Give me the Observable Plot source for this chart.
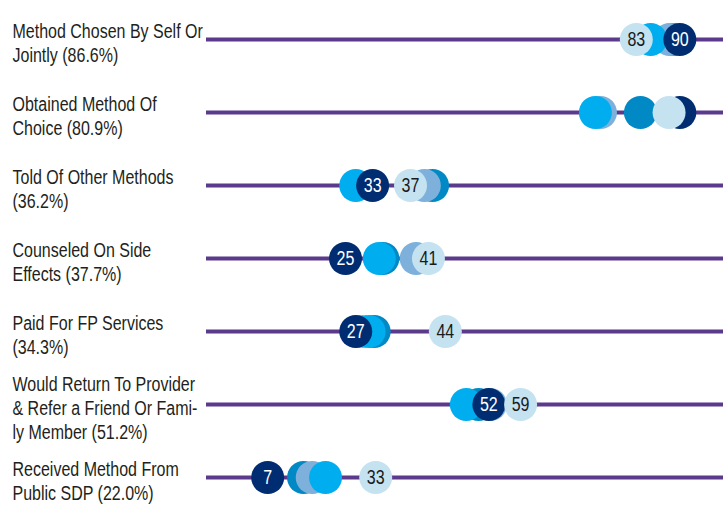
<!DOCTYPE html>
<html>
<head>
<meta charset="utf-8">
<script src="https://cdn.jsdelivr.net/npm/d3@7"></script>
<script src="https://cdn.jsdelivr.net/npm/@observablehq/plot@0.6"></script>
<style>
  html, body { margin: 0; padding: 0; background: #ffffff; }
  #chart { width: 723px; height: 514px; overflow: hidden; }
</style>
</head>
<body>
<div id="chart"></div>
<script>
// Row labels (top to bottom)
const rows = [
  "Method Chosen By Self Or\nJointly (86.6%)",
  "Obtained Method Of\nChoice (80.9%)",
  "Told Of Other Methods\n(36.2%)",
  "Counseled On Side\nEffects (37.7%)",
  "Paid For FP Services\n(34.3%)",
  "Would Return To Provider\n& Refer a Friend Or Fami-\nly Member (51.2%)",
  "Received Method From\nPublic SDP (22.0%)"
];

// Series names, in drawing order (bottom to top)
const seriesNames = ["Group C", "Group D", "Group B", "Group A", "Group E"];

// Dot positions (percent), one per row
const groupC = [88.9, 82.6, 42.0, 32.3, 30.6, 51.0, 16.8];
const groupD = [88.3, 74.8, 40.4, 38.8, 28.3, 53.3, 18.5];
const groupB = [84.6, 73.8, 27.0, 31.6, 29.6, 48.6, 21.1];
const groupA = [90.3, 90.3, 30.3, 25.0, 27.0, 53.0, 9.8];
const groupE = [81.8, 88.2, 37.7, 41.2, 44.5, 59.2, 30.9];

// Number labels shown on the two extreme groups (null = no label)
const labelsA = ["90", null, "33", "25", "27", "52", "7"];
const labelsE = ["83", null, "37", "41", "44", "59", "33"];

const palette = ["#0089c4", "#7db1db", "#00aeef", "#002d72", "#c4e2f0"];

const seriesValues = [groupC, groupD, groupB, groupA, groupE];
const dots = [];
seriesValues.forEach((vals, s) => {
  vals.forEach((v, i) => dots.push({row: rows[i], value: v, series: seriesNames[s]}));
});
const textA = rows.map((r, i) => ({row: r, value: groupA[i], label: labelsA[i]})).filter(d => d.label != null);
const textE = rows.map((r, i) => ({row: r, value: groupE[i], label: labelsE[i]})).filter(d => d.label != null);

const font = "'Liberation Sans', Arial, sans-serif";

const chart = Plot.plot({
  width: 723,
  height: 514,
  marginLeft: 206,
  marginRight: 0,
  marginTop: 0,
  marginBottom: 0,
  style: {fontFamily: font, background: "#ffffff"},
  x: {domain: [0, 100], range: [217, 729], axis: null},
  y: {type: "point", domain: rows, range: [38, 477], padding: 0, axis: null},
  color: {domain: seriesNames, range: palette},
  marks: [
    Plot.ruleY(rows, {y: d => d, stroke: "#5b3a8c", strokeWidth: 4}),
    Plot.dot(dots, {x: "value", y: "row", r: 16.5, fill: "series", stroke: "none"}),
    Plot.text(textA, {x: "value", y: "row", text: "label", fill: "#ffffff", fontSize: 20, fontFamily: font}),
    Plot.text(textE, {x: "value", y: "row", text: "label", fill: "#1a1a1a", fontSize: 20, fontFamily: font}),
    Plot.text(rows, {
      y: d => d, text: d => d, frameAnchor: "left", textAnchor: "start",
      dx: -194, dy: 3, lineAnchor: "middle", lineHeight: 1.2,
      fontSize: 20, fill: "#231f20", fontFamily: font
    })
  ]
});
// Condense the type horizontally (narrow face look)
d3.select(chart).selectAll("text").each(function() {
  const t = this.getAttribute("transform") || "";
  this.setAttribute("transform", (t + " scale(0.8,1)").trim());
});
document.getElementById("chart").appendChild(chart);
</script>
</body>
</html>
